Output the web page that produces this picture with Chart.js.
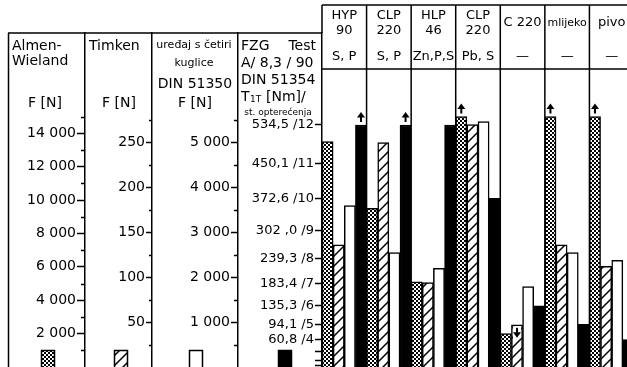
<!DOCTYPE html>
<html>
<head>
<meta charset="utf-8">
<script src="https://cdn.jsdelivr.net/npm/chart.js@4.4.0/dist/chart.umd.min.js"></script>
<style>
    html, body { margin: 0; padding: 0; background: #fff; overflow: hidden; width: 627px; height: 367px; }
    canvas { display: block; }
</style>
</head>
<body>
<canvas id="myChart" width="634" height="367"></canvas>
<script>
// groups (oils / fluids) and additives
const groupNames = [['HYP', '90'], ['CLP', '220'], ['HLP', '46'], ['CLP', '220'], ['C 220'], ['mlijeko'], ['pivo']];
const groupAdditives = ['S, P', 'S, P', 'Zn,P,S', 'Pb, S', '\u2014', '\u2014', '\u2014'];

// series values
const almenWieland = [13500, 9500, 5100, 15000, 2000, 15000, 15000];   // F [N]
const timken = [136, 250, 94, 270, 47, 136, 112];                       // F [N]
const fourBall = [3600, 2550, 2200, 5470, 1790, 2550, 2380];           // F [N]
const fzg = [534.5, 534.5, 534.5, 372.6, 135.3, 94.1, 60.8];           // T1T [Nm]

// arrows: value above / below the test range
const almenArrows = ['', '', '', 'up', '', 'up', 'up'];
const timkenArrows = ['', '', '', '', 'down', '', ''];
const fourBallArrows = ['', '', '', '', '', '', ''];
const fzgArrows = ['up', 'up', '', '', '', '', ''];

// tick labels
const almenTicks = [2000, 4000, 6000, 8000, 10000, 12000, 14000];
const almenTickLabels = ['2 000', '4 000', '6 000', '8 000', '10 000', '12 000', '14 000'];
const almenMinor = [1000, 3000, 5000, 7000, 9000, 11000, 13000, 15000];
const timkenTicks = [50, 100, 150, 200, 250];
const timkenTickLabels = ['50', '100', '150', '200', '250'];
const timkenMinor = [25, 75, 125, 175, 225, 275];
const fourBallTicks = [1000, 2000, 3000, 4000, 5000];
const fourBallTickLabels = ['1 000', '2 000', '3 000', '4 000', '5 000'];
const fourBallMinor = [500, 1500, 2500, 3500, 4500, 5500];
const fzgTicks = [3.3, 13.7, 35.3, 60.8, 94.1, 135.3, 183.4, 239.3, 302.0, 372.6, 450.1, 534.5];
const fzgTickLabels = ['', '', '', '60,8 /4', '94,1 /5', '135,3 /6', '183,4 /7', '239,3 /8', '302 ,0 /9', '372,6 /10', '450,1 /11', '534,5 /12'];

const FONT = '"DejaVu Sans", sans-serif';

// fill patterns
function checkerPattern() {
    const c = document.createElement('canvas');
    c.width = 4; c.height = 4;
    const g = c.getContext('2d');
    g.fillStyle = '#fff';
    g.fillRect(0, 0, 4, 4);
    g.fillStyle = '#000';
    g.fillRect(0, 0, 2, 2);
    g.fillRect(2, 2, 2, 2);
    return g.createPattern(c, 'repeat');
}

function hatchPattern() {
    const c = document.createElement('canvas');
    c.width = 10; c.height = 10;
    const g = c.getContext('2d');
    g.fillStyle = '#fff';
    g.fillRect(0, 0, 10, 10);
    g.strokeStyle = '#000';
    g.lineWidth = 1.5;
    g.beginPath();
    g.moveTo(0, 10); g.lineTo(10, 0);
    g.moveTo(-2, 2); g.lineTo(2, -2);
    g.moveTo(8, 12); g.lineTo(12, 8);
    g.stroke();
    return g.createPattern(c, 'repeat');
}

const checker = checkerPattern();
const hatch = hatchPattern();

function leftAxis(weight, max, width, ticks, labels, tickLength) {
    return {
        type: 'linear',
        position: 'left',
        weight: weight,
        bounds: 'data',
        min: 0,
        max: max,
        afterFit: s => { s.width = width; s.paddingTop = 0; s.paddingBottom = 0; },
        afterBuildTicks: s => { s.ticks = ticks.map(v => ({ value: v })); },
        ticks: {
            autoSkip: false,
            padding: 1,
            color: '#000',
            font: { family: FONT, size: 14 },
            callback: (v, i) => labels[i]
        },
        grid: { drawOnChartArea: false, tickLength: tickLength, tickWidth: 1.5, tickColor: '#000' },
        border: { color: '#000', width: 1.5 }
    };
}

const fzgAxis = leftAxis(1, 737.6, 84, fzgTicks, fzgTickLabels, 7);
fzgAxis.ticks.font = { family: FONT, size: 13 };

function drawArrow(ctx, x, tip, dir) {
    const s = dir === 'up' ? 1 : -1;
    ctx.beginPath();
    ctx.moveTo(x, tip);
    ctx.lineTo(x - 4, tip + 5.5 * s);
    ctx.lineTo(x + 4, tip + 5.5 * s);
    ctx.closePath();
    ctx.fill();
    ctx.fillRect(x - 1, s > 0 ? tip + 5 : tip - 10, 2, 5);
}

const decorations = {
    id: 'decorations',
    beforeDatasetsDraw(chart) {
        const ctx = chart.ctx;
        const area = chart.chartArea;
        const x = chart.scales.x;
        ctx.save();
        ctx.strokeStyle = '#000';
        ctx.lineWidth = 1.5;
        ctx.beginPath();
        // left panels frame
        ctx.moveTo(8, 33); ctx.lineTo(area.left, 33);
        ctx.moveTo(8.5, 33); ctx.lineTo(8.5, chart.height);
        // right header frame
        ctx.moveTo(area.left, 5); ctx.lineTo(chart.width, 5);
        ctx.moveTo(area.left, 69); ctx.lineTo(chart.width, 69);
        ctx.moveTo(area.left, 5); ctx.lineTo(area.left, area.top);
        for (let i = 1; i < groupNames.length; i++) {
            const bx = (x.getPixelForValue(i - 1) + x.getPixelForValue(i)) / 2;
            ctx.moveTo(bx, 5); ctx.lineTo(bx, chart.height);
        }
        ctx.stroke();
        ctx.restore();
    },
    afterDatasetsDraw(chart) {
        const ctx = chart.ctx;
        const arrows = [almenArrows, timkenArrows, fourBallArrows, fzgArrows];
        ctx.save();
        ctx.fillStyle = '#000';
        arrows.forEach((list, d) => {
            const bars = chart.getDatasetMeta(d).data;
            list.forEach((dir, i) => {
                if (!dir) return;
                const bar = bars[i];
                if (dir === 'up') {
                    drawArrow(ctx, bar.x, bar.y - 13, 'up');
                } else {
                    ctx.fillStyle = '#fff';
                    ctx.fillRect(bar.x - bar.width / 2 + 1.5, bar.y + 1.5, bar.width - 3, 12);
                    ctx.fillStyle = '#000';
                    drawArrow(ctx, bar.x, bar.y + 13, 'down');
                }
            });
        });
        ctx.restore();
    },
    afterDraw(chart) {
        const ctx = chart.ctx;
        const x = chart.scales.x;
        ctx.save();
        ctx.fillStyle = '#000';
        ctx.strokeStyle = '#000';
        ctx.textBaseline = 'middle';

        // minor ticks
        ctx.lineWidth = 1.5;
        [['yAlmen', almenMinor, 4], ['yTimken', timkenMinor, 3], ['yFourBall', fourBallMinor, 4]].forEach(([id, vals, len]) => {
            const s = chart.scales[id];
            ctx.beginPath();
            vals.forEach(v => {
                const y = Math.round(s.getPixelForValue(v)) + 0.5;
                ctx.moveTo(s.right - len, y); ctx.lineTo(s.right, y);
            });
            ctx.stroke();
        });

        // right header texts
        ctx.textAlign = 'center';
        groupNames.forEach((name, i) => {
            const cx = x.getPixelForValue(i);
            if (name.length === 2) {
                ctx.font = '13px ' + FONT;
                ctx.fillText(name[0], cx, 16);
                ctx.fillText(name[1], cx, 31);
            } else {
                ctx.font = (name[0].length > 5 ? '11px ' : '13px ') + FONT;
                ctx.fillText(name[0], cx, 23);
            }
            ctx.font = '13px ' + FONT;
            ctx.fillText(groupAdditives[i], cx, 57);
        });

        // left header texts
        ctx.font = '14px ' + FONT;
        ctx.textAlign = 'left';
        ctx.fillText('Almen-', 12, 46);
        ctx.fillText('Wieland', 12, 61);
        ctx.fillText('Timken', 89, 46);
        ctx.textAlign = 'center';
        ctx.fillText('F [N]', 45, 103);
        ctx.fillText('F [N]', 119, 103);
        ctx.fillText('F [N]', 195, 103);
        ctx.fillText('DIN 51350', 195, 84);
        ctx.font = '11px ' + FONT;
        ctx.fillText('ure\u0111aj s \u010detiri', 194, 45);
        ctx.fillText('kuglice', 194, 63);

        ctx.font = '14px ' + FONT;
        ctx.textAlign = 'left';
        ctx.fillText('FZG', 241, 46);
        ctx.fillText('A/ 8,3 / 90', 241, 63);
        ctx.fillText('DIN 51354', 241, 80);
        ctx.fillText('T', 241, 97);
        ctx.font = '9px ' + FONT;
        ctx.fillText('1T', 250, 100);
        ctx.font = '14px ' + FONT;
        ctx.fillText('[Nm]/', 266, 97);
        ctx.textAlign = 'right';
        ctx.fillText('Test', 316, 46);
        ctx.font = '9px ' + FONT;
        ctx.textAlign = 'center';
        ctx.fillText('st. optere\u0107enja', 278, 113);

        // legend swatches
        const fills = [checker, hatch, '#fff', '#000'];
        const swatchX = [48, 121, 196, 285];
        ctx.lineWidth = 1.5;
        swatchX.forEach((sx, i) => {
            ctx.fillStyle = fills[i];
            ctx.fillRect(sx - 6.5, 350, 13, 18);
            ctx.strokeRect(sx - 6.5, 350.5, 13, 18);
        });
        ctx.restore();
    }
};

const config = {
    type: 'bar',
    data: {
        labels: groupNames.map((n, i) => n.join(' ') + ' ' + groupAdditives[i] + ' ' + i),
        datasets: [
            { label: 'Almen-Wieland', data: almenWieland, yAxisID: 'yAlmen', backgroundColor: checker },
            { label: 'Timken', data: timken, yAxisID: 'yTimken', backgroundColor: hatch },
            { label: 'ure\u0111aj s \u010detiri kuglice', data: fourBall, yAxisID: 'yFourBall', backgroundColor: '#fff' },
            { label: 'FZG', data: fzg, yAxisID: 'yFzg', backgroundColor: '#000' }
        ]
    },
    options: {
        responsive: false,
        animation: false,
        devicePixelRatio: 1,
        layout: { padding: { top: 33, bottom: 0, left: 0, right: 0 } },
        datasets: {
            bar: { categoryPercentage: 1, barPercentage: 1, borderWidth: 1.5, borderColor: '#000' }
        },
        plugins: {
            legend: { display: false },
            tooltip: { enabled: false }
        },
        scales: {
            x: { display: false, offset: true },
            yAlmen: leftAxis(4, 20000, 85, almenTicks, almenTickLabels, 8),
            yTimken: leftAxis(3, 372, 67, timkenTicks, timkenTickLabels, 6),
            yFourBall: leftAxis(2, 7445, 86, fourBallTicks, fourBallTickLabels, 7),
            yFzg: fzgAxis
        }
    },
    plugins: [decorations]
};

const myChart = new Chart(document.getElementById('myChart'), config);
</script>
</body>
</html>
